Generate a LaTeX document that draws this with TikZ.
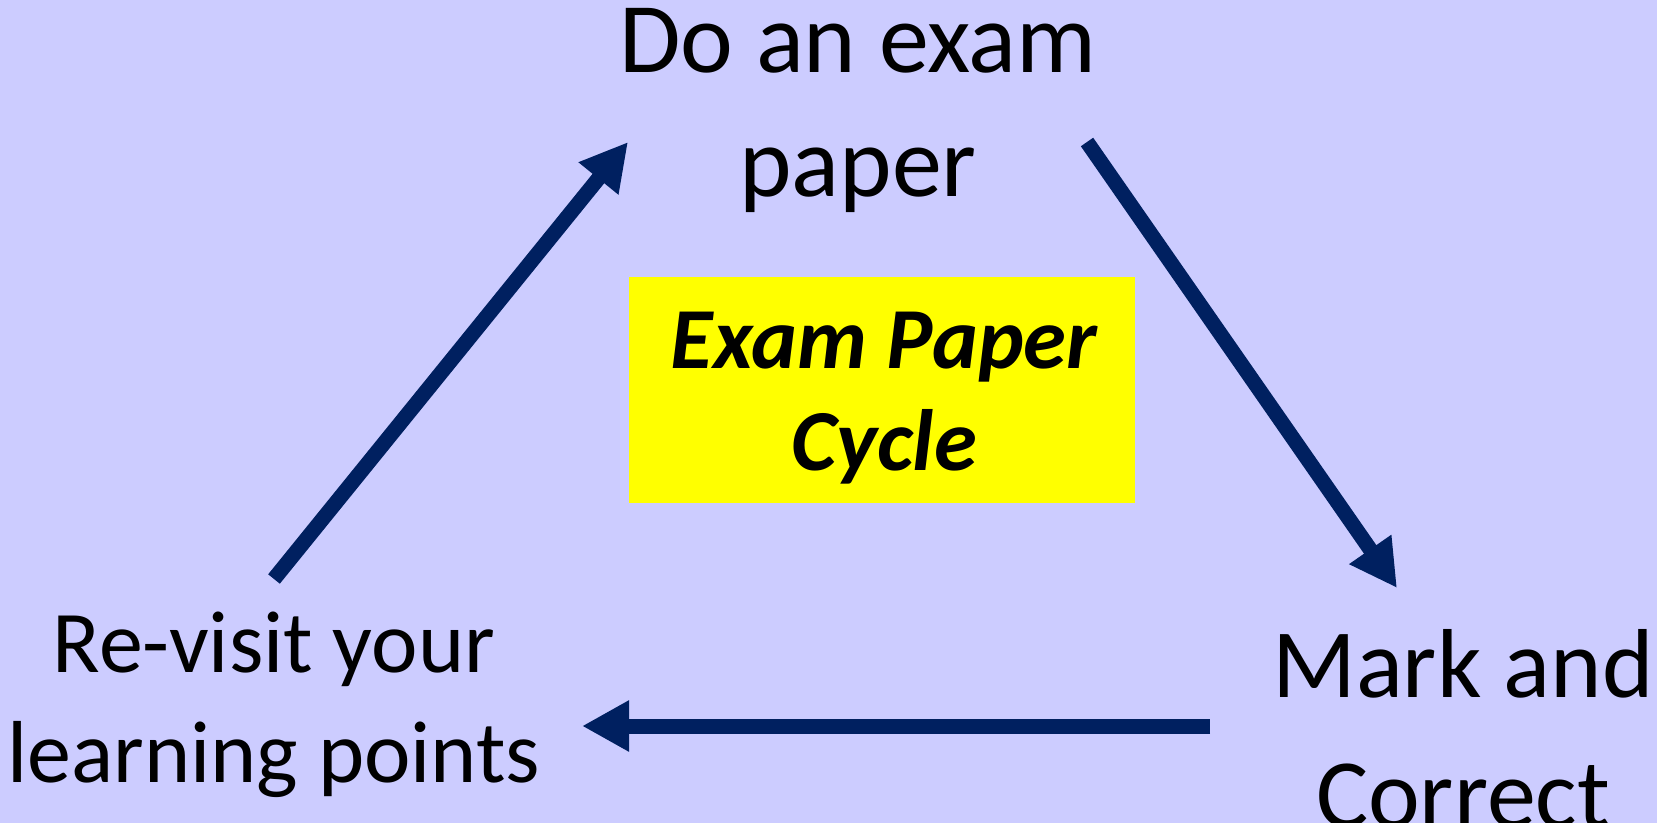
\documentclass[tikz,border=0pt]{standalone}
\usepackage{fontspec}
\setmainfont{Carlito}
\usepackage{tikz}
\usetikzlibrary{positioning,arrows.meta}
\definecolor{lilac}{HTML}{CCCCFF}
\definecolor{navy}{HTML}{002060}
\definecolor{hilite}{HTML}{FFFF00}
\tikzset{
  stage/.style   ={align=center, inner sep=0pt, text=black, anchor=base},
  titlebox/.style={fill=hilite, draw=none, inner sep=0pt,
                   minimum width=253pt, minimum height=113pt},
  titletxt/.style={align=center, inner sep=0pt, anchor=base,
                   font=\fontsize{43.5pt}{51pt}\selectfont\bfseries\itshape},
  cycarr/.style  ={-{Triangle[length=23.5pt,width=24pt]}, line width=7.5pt, draw=navy},
}
\begin{document}
\begin{tikzpicture}[x=0.5pt, y=-0.5pt]
% ---- background / page size
\fill[lilac] (0,0) rectangle (1657,823);
\useasboundingbox (0,0) rectangle (1657,823);

% ---- the three stages (placed by baseline of last line)
\node[stage, font=\fontsize{50pt}{62pt}\selectfont] (exam) at (858,197) {Do an exam\\paper};
\node[stage, font=\fontsize{49pt}{65pt}\selectfont] (mark) at (1463,827) {Mark and\\Correct};
\node[stage, font=\fontsize{44pt}{55pt}\selectfont] (revisit) at (274,782) {Re-visit your\\learning points};

% ---- centre title
\node[titlebox] (title) at (882,390) {};
\node[titletxt] (titletext) at (884,470) {Exam Paper\\Cycle};

% ---- arrow ends
\coordinate (revisitout) at (274,579);
\coordinate (examin) at (628,142);
\coordinate (examout) at (1087,142);
\coordinate (markin) at (1397,588);
\coordinate (markout) at (1210,726);
\coordinate (revisitin) at (582,726);

% ---- cycle arrows
\draw[cycarr] (revisitout) -- (examin);
\draw[cycarr] (examout) -- (markin);
\draw[cycarr] (markout) -- (revisitin);
\end{tikzpicture}
\end{document}
